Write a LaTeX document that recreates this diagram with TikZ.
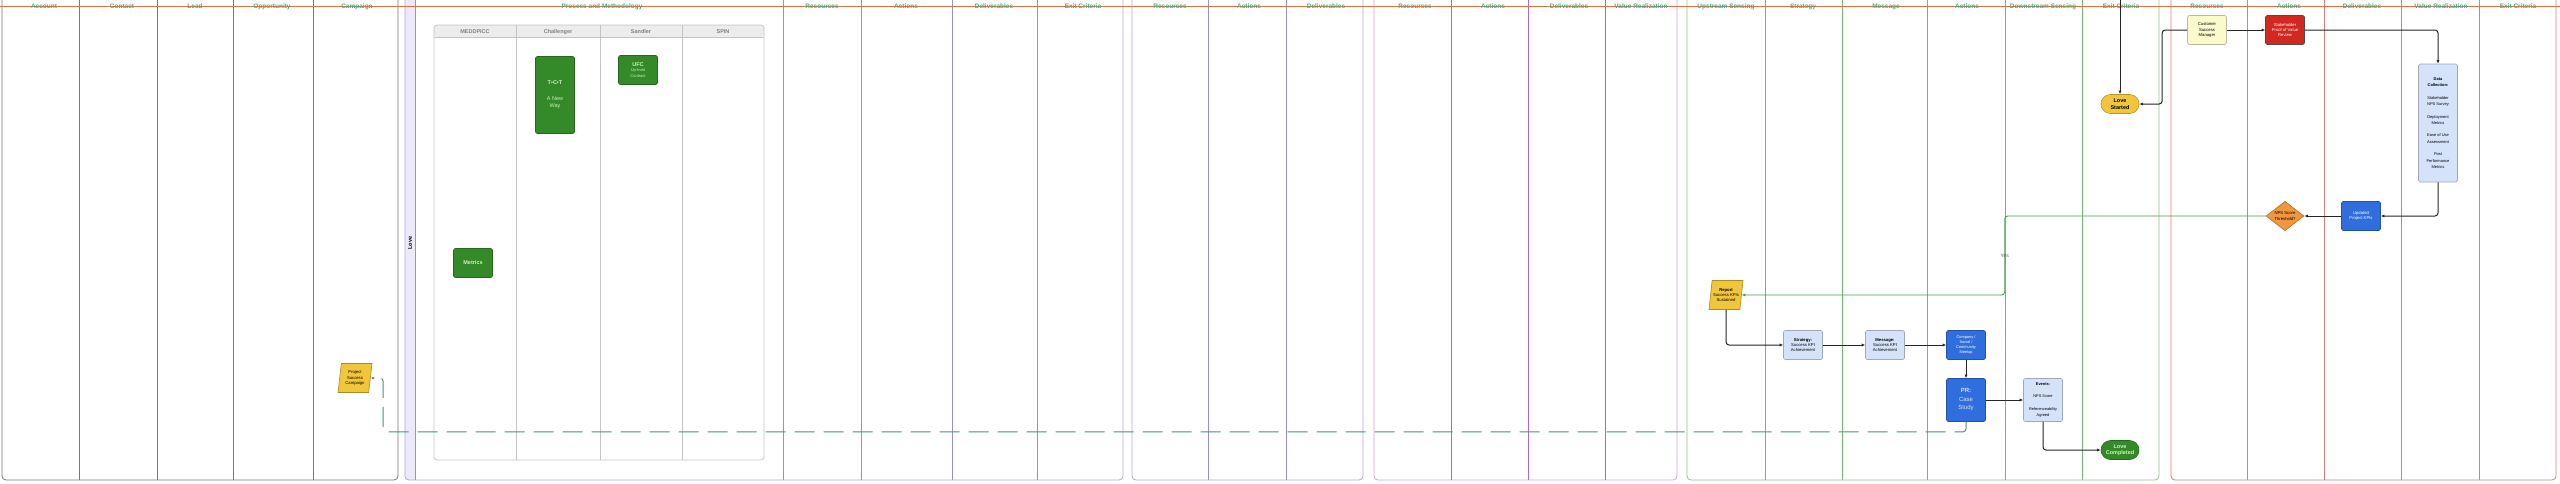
\documentclass[tikz,border=0pt]{standalone}
\usepackage{fontspec}
\setmainfont{Liberation Sans}
\usetikzlibrary{arrows.meta,positioning,shapes.geometric}
\definecolor{hdrteal}{RGB}{78,168,140}
\definecolor{topline}{RGB}{228,112,62}
\definecolor{poolgray}{RGB}{120,120,120}
\definecolor{poollav}{RGB}{176,168,236}
\definecolor{lavdiv}{RGB}{150,140,228}
\definecolor{poolpurple}{RGB}{214,160,232}
\definecolor{purplediv}{RGB}{176,100,214}
\definecolor{poolgreen}{RGB}{140,200,140}
\definecolor{greendiv}{RGB}{110,186,110}
\definecolor{poolred}{RGB}{232,120,120}
\definecolor{methgreen}{RGB}{52,138,40}
\definecolor{methtext}{RGB}{205,240,195}
\definecolor{gold}{RGB}{242,198,58}
\definecolor{paleblue}{RGB}{212,226,250}
\definecolor{strongblue}{RGB}{48,110,222}
\definecolor{alertred}{RGB}{210,40,32}
\definecolor{paleyellow}{RGB}{250,250,204}
\definecolor{amber}{RGB}{240,150,62}
\definecolor{tblgray}{RGB}{196,196,196}
\definecolor{tblhead}{RGB}{236,236,236}
\definecolor{dashteal}{RGB}{70,150,120}
\definecolor{yesgreen}{RGB}{70,160,70}

\begin{document}
\begin{tikzpicture}[x=1pt, y=-1pt,
    >={Latex[length=3.5pt,width=3pt]},
    hdr/.style={font=\fontsize{6.5}{7}\selectfont\bfseries, text=hdrteal, inner sep=0.5pt, text height=4.7pt, text depth=0pt, yshift=-0.6pt},
    colhdr/.style={font=\fontsize{5.5}{6}\selectfont\bfseries, text=black!50, inner sep=0.5pt, text height=4pt, text depth=0pt},
    box/.style={draw=#1!75!black, fill=#1, rounded corners=1.5pt, minimum width=39pt, minimum height=29pt, align=center, inner sep=1pt, line width=0.6pt, font=\fontsize{4.2}{5.4}\selectfont},
    meth/.style={box=methgreen, text=methtext, font=\fontsize{5.5}{7}\selectfont},
    slant/.style={trapezium, trapezium left angle=78, trapezium right angle=102, trapezium stretches body, draw=gold!70!black, fill=gold, minimum width=34pt, minimum height=29pt, align=center, inner sep=0.5pt, line width=0.6pt, font=\fontsize{4.2}{5.4}\selectfont},
    pill/.style={draw=#1!75!black, fill=#1, rounded corners=9.5pt, minimum width=38pt, minimum height=19pt, align=center, inner sep=0.5pt, line width=0.6pt, font=\fontsize{5.5}{6.5}\selectfont\bfseries},
    conn/.style={draw=black!85, line width=1pt, rounded corners=3pt},
]
\useasboundingbox (0,0) rectangle (2560,483);
\fill[white] (0,0) rectangle (2560,483);

% pools
\draw[poolgray, line width=0.8pt, rounded corners=4pt] (2,-10) rectangle (398,480);
\fill[poollav!25] (405,-10) rectangle (415,480);
\draw[poollav, line width=0.8pt, rounded corners=4pt] (405,-10) rectangle (1123,480);
\draw[poollav, line width=0.8pt, rounded corners=4pt] (1132,-10) rectangle (1363,480);
\draw[poolpurple, line width=0.8pt, rounded corners=4pt] (1374,-10) rectangle (1677,480);
\draw[poolgreen, line width=0.8pt, rounded corners=4pt] (1687,-10) rectangle (2159,480);
\draw[poolred, line width=0.8pt, rounded corners=4pt] (2171,-10) rectangle (2556,480);

% lane dividers
\draw[poolgray, line width=0.8pt] (79,-10) -- (79,480) (157,-10) -- (157,480) (233,-10) -- (233,480) (313,-10) -- (313,480);
\draw[lavdiv, line width=0.7pt] (415,-10) -- (415,480) (783,-10) -- (783,480) (861,-10) -- (861,480) (952,-10) -- (952,480) (1037,-10) -- (1037,480);
\draw[lavdiv, line width=0.7pt] (1208,-10) -- (1208,480) (1286,-10) -- (1286,480);
\draw[purplediv, line width=0.7pt] (1451,-10) -- (1451,480) (1528,-10) -- (1528,480) (1605,-10) -- (1605,480);
\draw[greendiv, line width=0.7pt] (1765,-10) -- (1765,480) (1842,-10) -- (1842,480) (1927,-10) -- (1927,480) (2005,-10) -- (2005,480) (2082,-10) -- (2082,480);
\draw[poolred, line width=0.7pt] (2247,-10) -- (2247,480) (2324,-10) -- (2324,480) (2401,-10) -- (2401,480) (2479,-10) -- (2479,480);

\node[rotate=90, font=\fontsize{5.5}{6}\selectfont\bfseries] (lovelane) at (410,243) {Love};

% methodology table
\path[fill=tblhead, rounded corners=3pt] (434,37) -- (434,25) -- (764,25) -- (764,37) -- cycle;
\draw[tblgray, line width=0.7pt, rounded corners=3pt] (434,25) rectangle (764,460);
\draw[tblgray, line width=0.7pt] (434,37) -- (764,37) (516,25) -- (516,460) (600,25) -- (600,460) (682,25) -- (682,460);
\node[colhdr] (meddpicc) at (475,31) {MEDDPICC};
\node[colhdr] (challenger) at (558,31) {Challenger};
\node[colhdr] (sandler) at (641,31) {Sandler};
\node[colhdr] (spin) at (723,31) {SPIN};

% header line and lane titles
\draw[topline, line width=0.8pt] (0,6) -- (2560,6);
\node[hdr] (hAccount) at (44,6) {Account};
\node[hdr] (hContact) at (122,6) {Contact};
\node[hdr] (hLead) at (195,6) {Lead};
\node[hdr] (hOpportunity) at (272,6) {Opportunity};
\node[hdr] (hCampaign) at (357,6) {Campaign};
\node[hdr] (hProcess) at (602,6) {Process and Methodology};
\node[hdr] (hResA) at (822,6) {Resources};
\node[hdr] (hActA) at (906,6) {Actions};
\node[hdr] (hDelA) at (994,6) {Deliverables};
\node[hdr] (hExitA) at (1083,6) {Exit Criteria};
\node[hdr] (hResB) at (1170,6) {Resources};
\node[hdr] (hActB) at (1249,6) {Actions};
\node[hdr] (hDelB) at (1326,6) {Deliverables};
\node[hdr] (hResC) at (1415,6) {Resources};
\node[hdr] (hActC) at (1493,6) {Actions};
\node[hdr] (hDelC) at (1569,6) {Deliverables};
\node[hdr] (hValC) at (1641,6) {Value Realization};
\node[hdr] (hUp) at (1726,6) {Upstream Sensing};
\node[hdr] (hStrat) at (1803,6) {Strategy};
\node[hdr] (hMsg) at (1886,6) {Message};
\node[hdr] (hActD) at (1967,6) {Actions};
\node[hdr] (hDown) at (2043,6) {Downstream Sensing};
\node[hdr] (hExitD) at (2121,6) {Exit Criteria};
\node[hdr] (hResE) at (2207,6) {Resources};
\node[hdr] (hActE) at (2289,6) {Actions};
\node[hdr] (hDelE) at (2362,6) {Deliverables};
\node[hdr] (hValE) at (2441,6) {Value Realization};
\node[hdr] (hExitE) at (2518,6) {Exit Criteria};

% methodology cards
\node[meth, minimum height=77pt] (tct) at (555,95) {\textbf{T•C•T}\\[9pt]A New\\Way};
\node[meth, font=\fontsize{4}{5.5}\selectfont] (ufc) at (638,70) {{\fontsize{5.5}{6}\selectfont\textbf{UFC}}\\Up-front\\Contract};
\node[meth] (metrics) at (473,263) {\textbf{Metrics}};

% flow nodes
\node[slant, minimum width=34pt] (campaign) at (355,378) {Project\\Success\\Campaign};
\node[slant] (report) at (1726,295) {\textbf{Report}\\Success KPIs\\Sustained};
\node[box=paleblue] (strategy) at (1803,345) {\textbf{Strategy:}\\Success KPI\\Achievement};
\node[box=paleblue] (message) at (1885,345) {\textbf{Message:}\\Success KPI\\Achievement};
\node[box=strongblue, text=white, font=\fontsize{3.9}{5}\selectfont] (company) at (1966,345) {Company /\\Social /\\Community\\Meetup};
\node[box=strongblue, text=paleblue, minimum height=43pt, font=\fontsize{6}{8.5}\selectfont] (pr) at (1966,400) {\textbf{PR:}\\Case\\Study};
\node[box=paleblue, minimum height=43pt, font=\fontsize{3.9}{6.2}\selectfont] (events) at (2043,400) {\textbf{Events:}\\[6pt]NPS Score\\[6pt]Referenceability\\Agreed};
\node[pill=methgreen, text=methtext] (lovecompleted) at (2120,450) {Love\\Completed};
\node[pill=gold] (lovestarted) at (2120,104) {Love\\Started};
\node[box=paleyellow] (csm) at (2207,30) {Customer\\Success\\Manager};
\node[box=alertred, text=white, draw=black!70] (stakeholder) at (2285,30) {Stakeholder\\Proof of Value\\Review};
\node[box=paleblue, minimum height=118pt, font=\fontsize{4}{6.3}\selectfont] (datacoll) at (2438,123) {\textbf{Data}\\\textbf{Collection:}\\[6.3pt]Stakeholder\\NPS Survey\\[6.3pt]Deployment\\Metrics\\[6.3pt]Ease of Use\\Assessment\\[6.3pt]Post\\Performance\\Metrics};
\node[box=strongblue, text=white] (updated) at (2361,216) {Updated\\Project KPIs};
\node[diamond, draw=amber!75!black, fill=amber, minimum width=38pt, minimum height=29pt, inner sep=0pt, align=center, line width=0.6pt, font=\fontsize{4.2}{5.4}\selectfont] (threshold) at (2285,216) {NPS Score\\Threshold?};
\coordinate (topin) at (2120,-2);

% connectors
\draw[conn,->] (topin) -- (lovestarted);
\draw[conn,->] (csm.west) -- ++(-25,0) |- (lovestarted.east);
\draw[conn,->] (csm) -- (stakeholder);
\draw[conn,->] (stakeholder.east) -| (datacoll.north);
\draw[conn,->] (datacoll.south) |- (updated.east);
\draw[conn,->] (updated) -- (threshold);
\draw[draw=yesgreen, line width=0.9pt, rounded corners=3pt, ->] (threshold.west) -- ++(-261,0) -- node[font=\fontsize{5}{6}\selectfont, text=black!65, inner sep=0.5pt] {Yes} ++(0,79) -- (report.east);
\draw[conn,->] (report.south) |- (strategy.west);
\draw[conn,->] (strategy) -- (message);
\draw[conn,->] (message) -- (company);
\draw[conn,->] (company) -- (pr);
\draw[conn,->] (pr) -- (events);
\draw[conn,->] (events.south) |- (lovecompleted.west);
\draw[draw=dashteal, line width=1pt, dash pattern=on 20pt off 9pt, rounded corners=3pt, ->] (pr.south) |- ++(-1583,10) |- (campaign.east);
\end{tikzpicture}
\end{document}
